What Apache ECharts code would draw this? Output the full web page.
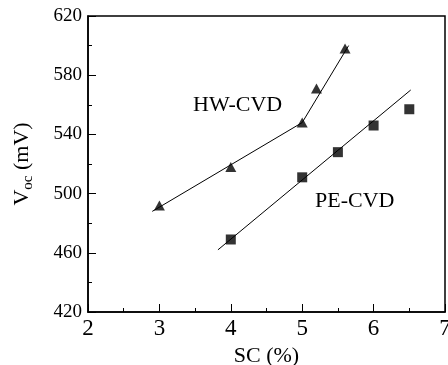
<!DOCTYPE html>
<html>
<head>
<meta charset="utf-8">
<script src="https://cdn.jsdelivr.net/npm/echarts@6/dist/echarts.min.js"></script>
<style>
  html, body { margin: 0; padding: 0; background: #fff; }
  #chart { width: 448px; height: 365px; }
</style>
</head>
<body>
<div id="chart"></div>
<script>
// Open-circuit voltage vs. SC for two deposition methods
const hwSC = [3, 4, 5, 5.2, 5.6];
const hwVoc = [492, 518, 548, 571, 598];
const peSC = [4, 5, 5.5, 6, 6.5];
const peVoc = [469, 511, 528, 546, 557];

// Linear fit segments (endpoints in data units)
const hwFitLowSC = [2.9, 5];
const hwFitLowVoc = [488, 548];
const hwFitHighSC = [5, 5.65];
const hwFitHighVoc = [548, 600];
const peFitSC = [3.82, 6.52];
const peFitVoc = [462, 570];

const xTicks = { min: 2, max: 7, interval: 1 };
const yTicks = { min: 420, max: 620, interval: 40 };

const pairs = (xs, ys) => xs.map((x, i) => [x, ys[i]]);
const serif = 'Liberation Serif';

const fitLine = (xs, ys) => ({
  type: 'line',
  data: pairs(xs, ys),
  showSymbol: false,
  symbol: 'none',
  lineStyle: { color: '#000', width: 1 },
  silent: true,
  z: 2
});

const chart = echarts.init(document.getElementById('chart'), null, { renderer: 'canvas' });
chart.setOption({
  animation: false,
  backgroundColor: '#fff',
  grid: {
    left: 88, top: 16, right: 3, bottom: 53,
    containLabel: false,
    outerBoundsMode: 'none',
    show: true, borderColor: '#000', borderWidth: 1.5, backgroundColor: 'transparent'
  },
  xAxis: {
    type: 'value',
    min: xTicks.min, max: xTicks.max, interval: xTicks.interval,
    name: 'SC (%)',
    nameLocation: 'middle',
    nameGap: 29,
    nameTextStyle: { fontFamily: serif, fontSize: 22, color: '#000' },
    axisLine: { show: true, lineStyle: { color: '#000', width: 1.5 } },
    axisTick: { show: true, inside: true, length: 8, lineStyle: { color: '#000', width: 1 } },
    minorTick: { show: true, splitNumber: 2, length: 4, lineStyle: { color: '#000', width: 1 } },
    axisLabel: { fontFamily: serif, fontSize: 23, color: '#000', margin: 5 },
    splitLine: { show: false }
  },
  yAxis: {
    type: 'value',
    min: yTicks.min, max: yTicks.max, interval: yTicks.interval,
    name: '{v|V}{s|oc}{v| (mV)}',
    nameLocation: 'middle',
    nameGap: 55,
    nameRotate: 90,
    nameTextStyle: {
      color: '#000',
      rich: {
        v: { fontFamily: serif, fontSize: 22, color: '#000', lineHeight: 26, verticalAlign: 'bottom' },
        s: { fontFamily: serif, fontSize: 15, color: '#000', lineHeight: 20, verticalAlign: 'bottom', padding: [0, 0, -3, 0] }
      }
    },
    axisLine: { show: true, lineStyle: { color: '#000', width: 1.5 } },
    axisTick: { show: true, inside: true, length: 8, lineStyle: { color: '#000', width: 1 } },
    minorTick: { show: true, splitNumber: 2, length: 4, lineStyle: { color: '#000', width: 1 } },
    axisLabel: { fontFamily: serif, fontSize: 19, color: '#000', margin: 6 },
    splitLine: { show: false }
  },
  series: [
    fitLine(hwFitLowSC, hwFitLowVoc),
    fitLine(hwFitHighSC, hwFitHighVoc),
    fitLine(peFitSC, peFitVoc),
    {
      name: 'HW-CVD',
      type: 'scatter',
      data: pairs(hwSC, hwVoc),
      symbol: 'triangle',
      symbolSize: [11, 10],
      itemStyle: { color: '#000' },
      z: 3
    },
    {
      name: 'PE-CVD',
      type: 'scatter',
      data: pairs(peSC, peVoc),
      symbol: 'rect',
      symbolSize: 10,
      itemStyle: { color: '#000' },
      z: 3
    }
  ],
  graphic: [
    {
      type: 'text', left: 193, top: 94,
      style: { text: 'HW-CVD', font: '22px "Liberation Serif"', fill: '#000' }
    },
    {
      type: 'text', left: 315, top: 190,
      style: { text: 'PE-CVD', font: '22px "Liberation Serif"', fill: '#000' }
    }
  ]
});
</script>
</body>
</html>
